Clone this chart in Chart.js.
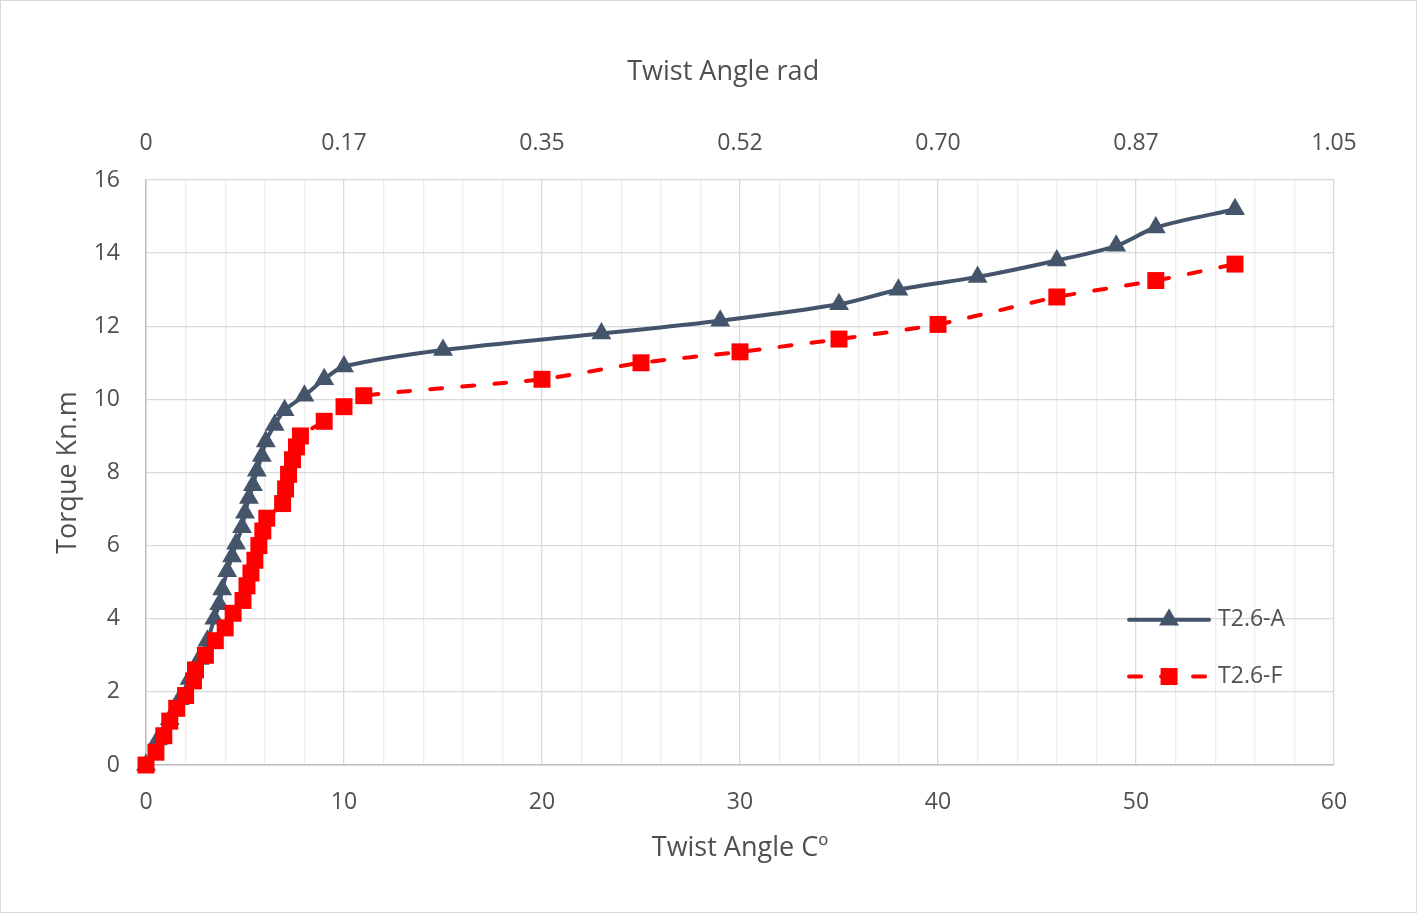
<!DOCTYPE html>
<html>
<head>
<meta charset="utf-8">
<script src="https://cdn.jsdelivr.net/npm/chart.js@4.4.1/dist/chart.umd.min.js"></script>
<style>
	html, body { margin: 0; padding: 0; background: #fff; }
	#wrap { width: 1417px; height: 913px; position: relative; }
</style>
</head>
<body>
<div id="wrap"><canvas id="torque-chart"></canvas></div>
<script>
// T2.6-A (triangles)
var angleA  = [ 0, 0.6, 1.2, 1.7, 2.2, 2.7, 3.1, 3.45, 3.7, 3.85, 4.1, 4.35, 4.55, 4.85, 5.0, 5.2, 5.4, 5.6, 5.85, 6.05, 6.5, 7, 8, 9, 10, 15, 23, 29, 35, 38, 42, 46, 49, 51, 55 ];
var torqueA = [ 0, 0.7, 1.25, 1.8, 2.35, 2.9, 3.4, 4.0, 4.4, 4.8, 5.3, 5.7, 6.05, 6.5, 6.9, 7.3, 7.65, 8.05, 8.45, 8.85, 9.3, 9.7, 10.1, 10.55, 10.9, 11.35, 11.8, 12.15, 12.6, 13.0, 13.35, 13.8, 14.2, 14.7, 15.2 ];

// T2.6-F (squares)
var angleF  = [ 0, 0.5, 0.9, 1.2, 1.55, 2.0, 2.4, 2.5, 3.0, 3.5, 4.0, 4.4, 4.9, 5.1, 5.3, 5.5, 5.7, 5.9, 6.1, 6.9, 7.05, 7.2, 7.4, 7.6, 7.8, 9, 10, 11, 20, 25, 30, 35, 40, 46, 51, 55 ];
var torqueF = [ 0, 0.35, 0.8, 1.2, 1.55, 1.9, 2.3, 2.6, 3.0, 3.4, 3.75, 4.15, 4.5, 4.9, 5.25, 5.6, 6.0, 6.4, 6.75, 7.15, 7.55, 7.95, 8.35, 8.7, 9.0, 9.4, 9.8, 10.1, 10.55, 11.0, 11.3, 11.65, 12.05, 12.8, 13.25, 13.7 ];

var seriesNames = [ 'T2.6-A', 'T2.6-F' ];
var degTicks = [ 0, 10, 20, 30, 40, 50, 60 ];
var radTicks = [ '0', '0.17', '0.35', '0.52', '0.70', '0.87', '1.05' ];

(function () {
	'use strict';

	var TEXT = '#505050';
	var FONT = '"Open Sans", "Noto Sans", sans-serif';

	function pairs( xs, ys ) {
		return xs.map( function ( x, i ) { return { x: x, y: ys[ i ] }; } );
	}

	// white background + outer frame
	var framePlugin = {
		id: 'frame',
		beforeDraw: function ( chart ) {
			var ctx = chart.ctx;
			ctx.save();
			ctx.fillStyle = '#fff';
			ctx.fillRect( 0, 0, chart.width, chart.height );
			ctx.strokeStyle = '#d9d9d9';
			ctx.lineWidth = 1;
			ctx.strokeRect( 0.5, 0.5, chart.width - 1, chart.height - 1 );
			ctx.restore();
		},
		// top axis title sits a bit left of centre in the original
		afterDraw: function ( chart ) {
			var ctx = chart.ctx;
			var x = chart.scales.x;
			ctx.save();
			ctx.font = '27px ' + FONT;
			ctx.fillStyle = TEXT;
			ctx.textAlign = 'center';
			ctx.textBaseline = 'middle';
			ctx.fillText( 'Twist Angle rad', x.getPixelForValue( 29.15 ), 72 );
			ctx.restore();
		}
	};

	// legend drawn inside the plot, lower right
	var legendPlugin = {
		id: 'innerLegend',
		afterDraw: function ( chart ) {
			var ctx = chart.ctx;
			var x = chart.scales.x;
			var y = chart.scales.y;
			var x0 = x.getPixelForValue( 49.65 );
			var rows = [ y.getPixelForValue( 3.97 ), y.getPixelForValue( 2.42 ) ];
			ctx.save();
			ctx.font = '23px ' + FONT;
			ctx.textBaseline = 'middle';
			[ 0, 1 ].forEach( function ( r ) {
				var ds = chart.data.datasets[ r === 0 ? 1 : 0 ];
				var yy = rows[ r ];
				ctx.strokeStyle = ds.borderColor;
				ctx.lineWidth = ds.borderWidth;
				ctx.lineCap = 'round';
				ctx.setLineDash( ds.borderDash || [] );
				ctx.beginPath();
				ctx.moveTo( x0, yy );
				ctx.lineTo( x0 + 80, yy );
				ctx.stroke();
				ctx.setLineDash( [] );
				ctx.fillStyle = ds.backgroundColor;
				Chart.helpers.drawPoint( ctx, {
					pointStyle: ds.pointStyle,
					radius: ds.pointRadius,
					borderWidth: 0
				}, x0 + 40, yy );
				ctx.fillStyle = TEXT;
				ctx.fillText( ds.label, x0 + 89, yy );
			} );
			ctx.restore();
		}
	};

	var el = document.getElementById( 'torque-chart' );
	new Chart( el, {
		type: 'line',
		data: {
			datasets: [ {
				label: seriesNames[ 1 ],
				data: pairs( angleF, torqueF ),
				borderColor: '#ff0000',
				backgroundColor: '#ff0000',
				borderWidth: 4,
				borderDash: [ 12, 20 ],
				borderCapStyle: 'round',
				pointStyle: 'rect',
				pointRadius: 12,
				pointBorderWidth: 0,
				tension: 0.2,
				clip: false,
				order: 1
			}, {
				label: seriesNames[ 0 ],
				data: pairs( angleA, torqueA ),
				borderColor: '#44546a',
				backgroundColor: '#44546a',
				borderWidth: 4,
				pointStyle: 'triangle',
				pointRadius: 11.5,
				pointBorderWidth: 0,
				tension: 0.3,
				clip: false,
				order: 2
			} ]
		},
		options: {
			responsive: true,
			maintainAspectRatio: false,
			animation: false,
			layout: { padding: { left: 52, right: 83, top: 0, bottom: 0 } },
			plugins: {
				legend: { display: false },
				tooltip: { enabled: false }
			},
			scales: {
				x: {
					type: 'linear',
					position: 'bottom',
					min: 0,
					max: 60,
					afterFit: function ( s ) { s.height = 148; },
					afterBuildTicks: function ( s ) {
						var t = [];
						for ( var v = 0; v <= 60; v += 2 ) { t.push( { value: v } ); }
						s.ticks = t;
					},
					ticks: {
						autoSkip: false,
						maxRotation: 0,
						color: TEXT,
						font: { family: FONT, size: 23 },
						padding: 24,
						callback: function ( v ) {
							return degTicks.indexOf( v ) >= 0 ? String( v ) : '';
						}
					},
					grid: {
						drawTicks: false,
						lineWidth: 1.3,
						color: function ( c ) {
							return c.tick && c.tick.value % 10 === 0 ? '#d9d9d9' : '#ededed';
						}
					},
					border: { display: true, color: '#bfbfbf', width: 1.5 },
					title: {
						display: true,
						text: 'Twist Angle Cº',
						color: TEXT,
						font: { family: FONT, size: 27 },
						padding: { top: 0, bottom: 48 }
					}
				},
				x2: {
					type: 'linear',
					position: 'top',
					min: 0,
					max: 60,
					afterFit: function ( s ) { s.height = 180; },
					afterBuildTicks: function ( s ) {
						s.ticks = degTicks.map( function ( v ) { return { value: v }; } );
					},
					ticks: {
						autoSkip: false,
						maxRotation: 0,
						color: TEXT,
						font: { family: FONT, size: 23 },
						padding: 23,
						callback: function ( v, i ) { return radTicks[ i ]; }
					},
					grid: { display: false, drawTicks: false },
					border: { display: false },
					title: { display: false }
				},
				y: {
					min: 0,
					max: 16,
					afterFit: function ( s ) { s.width = 94; },
					ticks: {
						stepSize: 2,
						color: TEXT,
						font: { family: FONT, size: 23 },
						padding: 26
					},
					grid: { drawTicks: false, color: '#d9d9d9', lineWidth: 1.3 },
					border: { display: true, color: '#bfbfbf', width: 1.5 },
					title: {
						display: true,
						text: 'Torque Kn.m',
						color: TEXT,
						font: { family: FONT, size: 27 },
						padding: { top: 0, bottom: 0 }
					}
				}
			}
		},
		plugins: [ framePlugin, legendPlugin ]
	} );
}() );
</script>
</body>
</html>
